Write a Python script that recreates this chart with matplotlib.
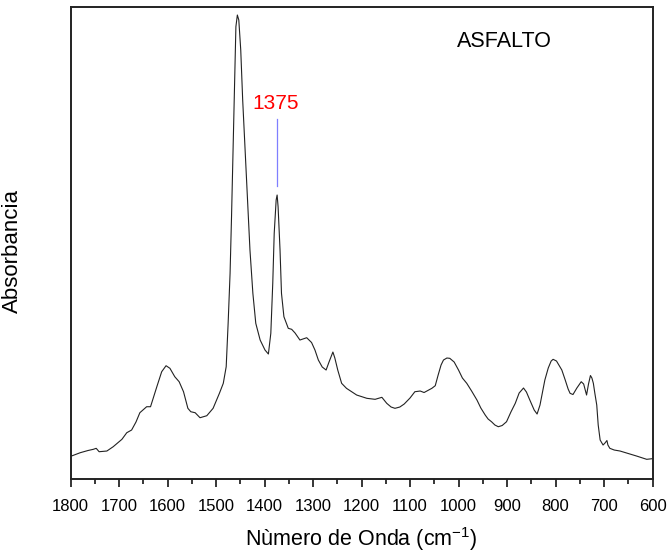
import matplotlib
matplotlib.use("Agg")
from matplotlib import pyplot as plt
from matplotlib.ticker import MultipleLocator

# espectro FTIR del asfalto (absorbancia en u.a.)
wavenumber = [1798, 1780, 1764, 1753, 1747, 1741, 1725, 1712, 1694, 1684,
              1674, 1665, 1657, 1643, 1635, 1622, 1612, 1603, 1595, 1585,
              1576, 1567, 1558, 1552, 1543, 1533, 1519, 1506, 1493, 1485,
              1479, 1475, 1471, 1468, 1464, 1461, 1459, 1456, 1453, 1449,
              1445, 1440, 1435, 1430, 1424, 1418, 1409, 1399, 1392, 1387,
              1383, 1380, 1376, 1374, 1372, 1368, 1365, 1360, 1351, 1344,
              1337, 1327, 1313, 1303, 1296, 1289, 1281, 1273, 1267, 1259,
              1255, 1249, 1241, 1231, 1210, 1189, 1172, 1158, 1148, 1139,
              1131, 1121, 1112, 1100, 1090, 1079, 1071, 1055, 1048, 1042,
              1036, 1031, 1024, 1018, 1009, 1000, 992, 983, 973, 962,
              954, 945, 939, 932, 925, 918, 910, 901, 892, 883,
              875, 866, 860, 853, 844, 838, 832, 826, 822, 815,
              809, 805, 798, 787, 780, 774, 770, 764, 756, 747,
              742, 736, 732, 728, 725, 722, 719, 715, 712, 708,
              702, 698, 694, 692, 688, 679, 667, 650, 633, 612,
              601]
absorbance = [23, 26.3, 28.5, 29.7, 30.7, 27.3, 28, 32.3, 39.7, 46.3,
              49, 57, 66.3, 72.3, 72.3, 92.3, 107.3, 113.3, 110.7, 102.3,
              97.3, 87.3, 70.7, 67.3, 66.3, 61.3, 63.3, 70.7, 85.7, 95.7,
              112.3, 155.7, 205.7, 262.3, 345.7, 412.3, 452.3, 464, 459, 429,
              379, 329, 279, 229, 185.7, 155.7, 139, 129, 125, 145.7,
              195.7, 245.7, 279, 284, 272.3, 229, 185.7, 162.3, 150.7, 149.7,
              146, 139, 141.3, 136.5, 129, 119, 112, 109, 117, 127,
              121, 109, 95.7, 90.7, 84, 80.7, 79.7, 81.7, 75.7, 72,
              70.7, 72, 75, 81, 87.3, 88, 86.5, 90.7, 93.3, 104,
              114, 119, 121, 120.7, 117, 109, 101, 95.7, 88, 79,
              71, 64, 60, 57.3, 54, 52.3, 53.5, 57.3, 67, 75.7,
              86, 91, 87, 79, 69, 65, 74, 89, 99, 111,
              118, 119.7, 118, 109, 99, 90, 85.7, 84.5, 91, 97.3,
              95, 84, 95, 103.5, 101, 95.7, 86, 74, 54, 39,
              34, 36, 38.5, 34, 30.7, 29, 28, 25.5, 23, 19.7,
              20.3]

peak_label = "1375"
peak_pos = 1375
peak_line = [293, 360]
peak_text_y = 376

plt.rcParams['font.family'] = ['Liberation Sans', 'DejaVu Sans']
plt.rcParams['mathtext.fontset'] = 'custom'
plt.rcParams['mathtext.rm'] = 'Liberation Sans'
plt.rcParams['mathtext.it'] = 'Liberation Sans'

fig = plt.figure(figsize=(6.67, 5.55), dpi=100)
ax = fig.add_axes([0.1057, 0.1369, 0.8726, 0.851])

ax.plot(wavenumber, absorbance, color="#222222", linewidth=0.8)
ax.plot([peak_pos, peak_pos], peak_line, color="#7f7fff", linewidth=0.9)
ax.text(peak_pos + 3, peak_text_y, peak_label, color="red", fontsize=15,
        ha="center", va="center")
ax.text(0.7457, 0.927, "ASFALTO", transform=ax.transAxes, fontsize=15.5,
        ha="center", va="center")

ax.set_xlim(1800, 600)
ax.set_ylim(0, 472.3)
ax.xaxis.set_major_locator(MultipleLocator(100))
ax.xaxis.set_minor_locator(MultipleLocator(50))
ax.tick_params(axis='x', which='major', direction='out', length=6, width=1.1,
               labelsize=12, pad=8.5)
ax.tick_params(axis='x', which='minor', direction='out', length=3.6, width=1.1)
ax.set_yticks([])

for sp in ax.spines.values():
    sp.set_linewidth(1.4)
    sp.set_color("#222222")

ax.set_xlabel(r"Nùmero de Onda (cm$^{-1}$)", fontsize=15.5, labelpad=8)
ax.set_ylabel("Absorbancia", fontsize=16)
ax.yaxis.set_label_coords(-0.0816, 0.483)

fig.savefig("out.png", dpi=100)
